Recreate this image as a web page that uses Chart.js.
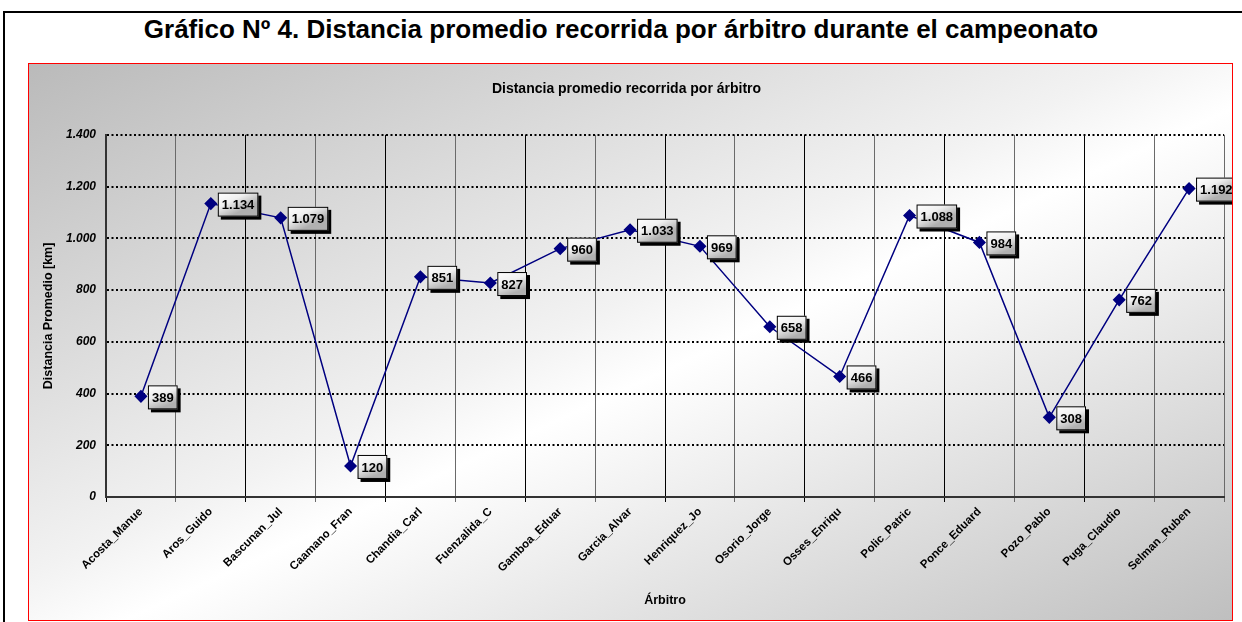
<!DOCTYPE html>
<html>
<head>
<meta charset="utf-8">
<script src="https://cdn.jsdelivr.net/npm/chart.js@4/dist/chart.umd.min.js"></script>
<style>
  body { margin: 0; background: #fff; font-family: Arial, "Liberation Sans", sans-serif; }
  #frame { position: absolute; left: 3px; top: 11px; width: 1239px; height: 611px; border-left: 2px solid #000; border-top: 2px solid #000; box-sizing: border-box; }
  #title { position: absolute; left: 0; top: 14px; width: 1242px; text-align: center; font-weight: bold; font-size: 26px; color: #000; }
  #box { position: absolute; left: 28px; top: 63px; width: 1205px; height: 558px; border: 1px solid #f00; box-sizing: border-box;
         background: linear-gradient(to bottom right, #bababa 0%, #f2f2f2 46%, #ffffff 54%, #bfbfbf 100%); }
  #wrap { position: absolute; left: 0; top: 0; width: 1203px; height: 556px; }
</style>
</head>
<body>
<div id="frame"></div>
<div id="title">Gráfico Nº 4. Distancia promedio recorrida por árbitro durante el campeonato</div>
<div id="box"><div id="wrap"><canvas id="chart"></canvas></div></div>
<script>
const arbitros = [
  "Acosta_Manue", "Aros_Guido", "Bascunan_Jul", "Caamano_Fran", "Chandia_Carl", "Fuenzalida_C",
  "Gamboa_Eduar", "Garcia_Alvar", "Henriquez_Jo", "Osorio_Jorge", "Osses_Enriqu", "Polic_Patric",
  "Ponce_Eduard", "Pozo_Pablo", "Puga_Claudio", "Selman_Ruben"
];
const distancias = [389, 1134, 1079, 120, 851, 827, 960, 1033, 969, 658, 466, 1088, 984, 308, 762, 1192];

// miles con punto, como en el original
function fmt(v) {
  return String(v).replace(/\B(?=(\d{3})+(?!\d))/g, ".");
}

const etiquetas = {
  id: "etiquetas",
  afterDatasetsDraw(chart) {
    const ctx = chart.ctx;
    const meta = chart.getDatasetMeta(0);
    ctx.save();
    ctx.font = "bold 13px Arial";
    ctx.textBaseline = "middle";
    meta.data.forEach((pt, i) => {
      const txt = fmt(distancias[i]);
      const w = ctx.measureText(txt).width + 8;
      const h = 24;
      const x = pt.x + 7;
      const y = pt.y - 11;
      ctx.fillStyle = "#000";
      ctx.fillRect(x + 3, y + 3, w, h);
      const g = ctx.createLinearGradient(x, y, x + w * 0.3, y + h);
      g.addColorStop(0, "#ffffff");
      g.addColorStop(0.5, "#f0f0f0");
      g.addColorStop(1, "#b0b0b0");
      ctx.fillStyle = g;
      ctx.fillRect(x, y, w, h);
      ctx.strokeStyle = "#000";
      ctx.lineWidth = 1;
      ctx.strokeRect(x + 0.5, y + 0.5, w - 1, h - 1);
      ctx.fillStyle = "#000";
      ctx.fillText(txt, x + 4, y + h / 2 + 1);
    });
    ctx.restore();
  }
};

new Chart(document.getElementById("chart").getContext("2d"), {
  type: "line",
  data: {
    labels: arbitros,
    datasets: [{
      label: "Distancia",
      data: distancias,
      borderColor: "#000080",
      backgroundColor: "#000080",
      borderWidth: 1.5,
      pointStyle: "rectRot",
      pointRadius: 5.5,
      pointHoverRadius: 5.5,
      tension: 0
    }]
  },
  options: {
    responsive: true,
    maintainAspectRatio: false,
    animation: false,
    layout: { padding: { left: 0, right: 8, top: 0, bottom: 8 } },
    plugins: {
      legend: { display: false },
      tooltip: { enabled: false },
      title: {
        display: true,
        text: "Distancia promedio recorrida por árbitro",
        color: "#000",
        font: { family: "Arial", size: 14, weight: "bold" },
        padding: { top: 17, bottom: 37 }
      }
    },
    scales: {
      x: {
        offset: true,
        grid: {
          offset: true,
          drawOnChartArea: true,
          color: (c) => (c.index % 2 === 0 ? "#000" : "#6a6a6a"),
          lineWidth: 1,
          tickLength: 5
        },
        border: { color: "#333", width: 2 },
        ticks: {
          color: "#000",
          minRotation: 45,
          maxRotation: 45,
          font: { family: "Arial", size: 11.5, weight: "bold" }
        },
        title: {
          display: true,
          text: "Árbitro",
          color: "#000",
          font: { family: "Arial", size: 12.5, weight: "bold" },
          padding: { top: 2 }
        },
        afterFit: (s) => { s.height = 115; }
      },
      y: {
        min: 0,
        max: 1400,
        ticks: {
          stepSize: 200,
          color: "#000",
          padding: 10,
          font: { family: "Arial", size: 12, weight: "bold", style: "italic" },
          callback: (v) => fmt(v)
        },
        grid: {
          color: "#000",
          lineWidth: 2,
          drawTicks: false
        },
        border: { color: "#333", width: 2, dash: [2, 2.5] },
        title: {
          display: true,
          text: "Distancia Promedio [km]",
          color: "#000",
          font: { family: "Arial", size: 12.5, weight: "bold" },
          padding: { top: 12, bottom: 0 }
        },
        afterFit: (s) => { s.width = 77; }
      }
    }
  },
  plugins: [etiquetas]
});
</script>
</body>
</html>
